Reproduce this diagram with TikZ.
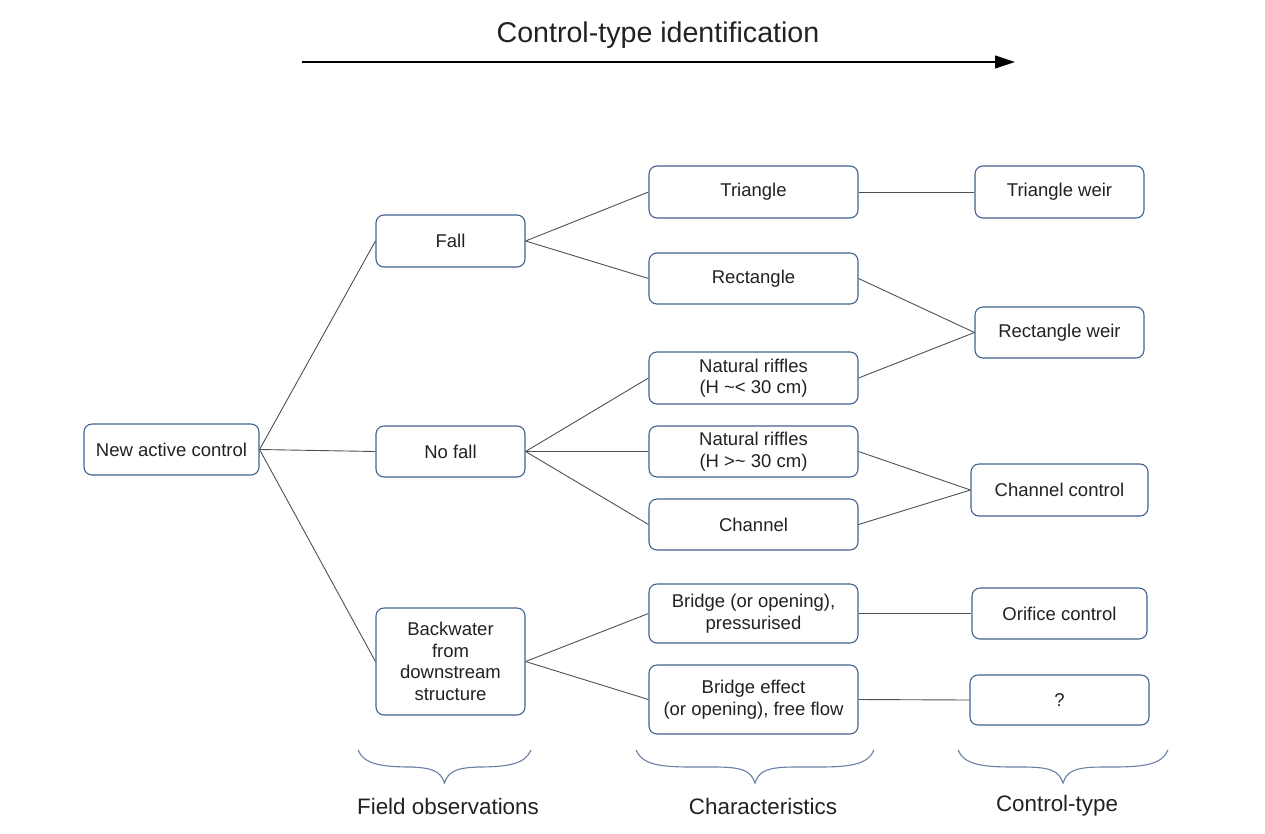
\documentclass[tikz,border=0pt]{standalone}
\usepackage{fontspec}
\setmainfont{Liberation Sans}
\usetikzlibrary{arrows.meta}
\definecolor{boxline}{HTML}{41628F}
\definecolor{braceline}{HTML}{6A7FA3}
\definecolor{conn}{HTML}{505050}
\definecolor{txt}{HTML}{222222}
\begin{document}
\begin{tikzpicture}[x=1pt,y=-1pt,
  box/.style={draw=boxline, line width=1.1pt, rounded corners=8pt, fill=white,
    inner sep=0pt, align=center, text=txt,
    font=\fontsize{18.5}{21.5}\selectfont},
  link/.style={draw=conn, line width=0.9pt},
  curly/.style={draw=braceline, line width=1.1pt},
  lbl/.style={text=txt, font=\fontsize{22.4}{26}\selectfont, inner sep=0pt}]
\useasboundingbox (0,0) rectangle (1265,833);

% title and arrow
\node[lbl, font=\fontsize{28.6}{32}\selectfont] (title) at (658,35) {Control-type identification};
\coordinate (arrS) at (302,62);
\coordinate (arrE) at (1015,62);
\draw[line width=1.1pt, -{Triangle[length=20pt,width=13pt]}] (arrS) -- (arrE);

% column 0
\node[box, minimum width=175, minimum height=51] (nac) at (171.5,449.5) {New active control};
% column 1
\node[box, minimum width=149, minimum height=52] (fall) at (450.5,241) {Fall};
\node[box, minimum width=149, minimum height=51] (nofall) at (450.5,451.5) {No fall};
\node[box, minimum width=149, minimum height=107] (back) at (450.5,661.5) {Backwater\\from\\downstream\\structure};
% column 2
\node[box, minimum width=209, minimum height=52] (tri) at (753.5,192) {Triangle};
\node[box, minimum width=209, minimum height=51] (rect) at (753.5,278.5) {Rectangle};
\node[box, minimum width=209, minimum height=52] (nr1) at (753.5,378) {Natural riffles\\(H \textasciitilde< 30 cm)};
\node[box, minimum width=209, minimum height=51] (nr2) at (753.5,451.5) {Natural riffles\\(H >\textasciitilde\ 30 cm)};
\node[box, minimum width=209, minimum height=51] (chan) at (753.5,524.5) {Channel};
\node[box, minimum width=209, minimum height=59] (bp) at (753.5,613.5) {Bridge (or opening),\\pressurised};
\node[box, minimum width=209, minimum height=69] (be) at (753.5,699.5) {Bridge effect\\(or opening), free flow};
% column 3
\node[box, minimum width=169, minimum height=52] (tw) at (1059.5,192) {Triangle weir};
\node[box, minimum width=169, minimum height=51] (rw) at (1059.5,332.5) {Rectangle weir};
\node[box, minimum width=177, minimum height=52] (cc) at (1059.5,490) {Channel control};
\node[box, minimum width=175, minimum height=51] (oc) at (1059.5,613.5) {Orifice control};
\node[box, minimum width=179, minimum height=50] (qq) at (1059.5,700) {?};

% connectors
\draw[link] (nac.east) -- (fall.west);
\draw[link] (nac.east) -- (nofall.west);
\draw[link] (nac.east) -- (back.west);
\draw[link] (fall.east) -- (tri.west);
\draw[link] (fall.east) -- (rect.west);
\draw[link] (nofall.east) -- (nr1.west);
\draw[link] (nofall.east) -- (nr2.west);
\draw[link] (nofall.east) -- (chan.west);
\draw[link] (back.east) -- (bp.west);
\draw[link] (back.east) -- (be.west);
\draw[link] (tri.east) -- (tw.west);
\draw[link] (rect.east) -- (rw.west);
\draw[link] (nr1.east) -- (rw.west);
\draw[link] (nr2.east) -- (cc.west);
\draw[link] (chan.east) -- (cc.west);
\draw[link] (bp.east) -- (oc.west);
\draw[link] (be.east) -- (qq.west);

% braces
\foreach \a/\b in {358/531, 636/874, 958/1168}{
  \pgfmathsetmacro\m{(\a+\b)/2}
  \draw[curly] (\a,750) .. controls (\a+6,764) and (\a+22,767) .. (\a+55,767)
    -- (\m-40,767) .. controls (\m-12,767) and (\m-4,771) .. (\m,783)
    .. controls (\m+4,771) and (\m+12,767) .. (\m+40,767)
    -- (\b-55,767) .. controls (\b-22,767) and (\b-6,764) .. (\b,750);
}
\node[lbl] (l1) at (448,806) {Field observations};
\node[lbl] (l2) at (763,806) {Characteristics};
\node[lbl] (l3) at (1057,806) {Control-type};
\end{tikzpicture}
\end{document}
